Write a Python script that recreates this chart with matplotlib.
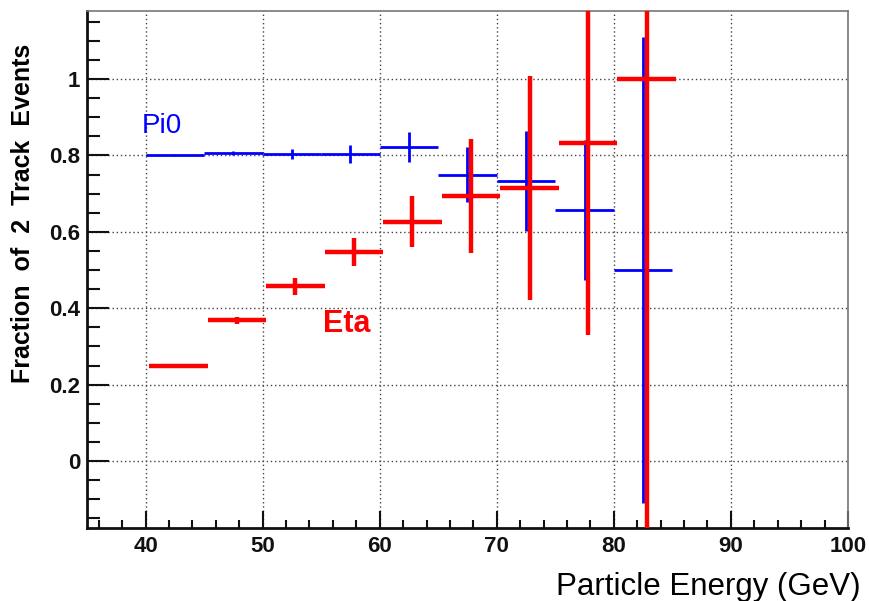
import matplotlib
matplotlib.use("Agg")
import matplotlib.pyplot as plt
from matplotlib.ticker import MultipleLocator

plt.rcParams['font.family'] = ['Liberation Sans', 'DejaVu Sans']

# energy bins, 5 GeV wide
bin_half = 2.5
pi0_x = [42.5, 47.5, 52.5, 57.5, 62.5, 67.5, 72.5, 77.5, 82.5]
pi0_frac = [0.800, 0.806, 0.804, 0.804, 0.822, 0.749, 0.733, 0.658, 0.500]
pi0_err = [0.002, 0.005, 0.013, 0.023, 0.040, 0.072, 0.130, 0.183, 0.610]

# eta points sit slightly to the right of the pi0 ones
eta_x = [42.8, 47.8, 52.8, 57.8, 62.8, 67.8, 72.8, 77.8, 82.8]
eta_frac = [0.250, 0.368, 0.457, 0.547, 0.627, 0.693, 0.714, 0.833, 1.000]
eta_err = [0.002, 0.010, 0.021, 0.037, 0.067, 0.149, 0.293, 0.503, 1.200]

x_ticks = [40, 50, 60, 70, 80, 90, 100]
y_ticks = [0, 0.2, 0.4, 0.6, 0.8, 1.0]
y_tick_labels = ['0', '0.2', '0.4', '0.6', '0.8', '1']

fig = plt.figure(figsize=(8.69, 6.01), dpi=100)
ax = fig.add_axes([0.1001, 0.1215, 0.8757, 0.8602])

ax.errorbar(pi0_x, pi0_frac, xerr=bin_half, yerr=pi0_err, fmt='none',
            ecolor='#0000ff', elinewidth=2.0, capsize=0, zorder=3)
ax.errorbar(eta_x, eta_frac, xerr=bin_half, yerr=eta_err, fmt='none',
            ecolor='#ff0000', elinewidth=3.2, capsize=0, zorder=4)

ax.set_xlim(35, 100)
ax.set_ylim(-0.175, 1.178)
ax.set_xticks(x_ticks)
ax.set_yticks(y_ticks)
ax.set_yticklabels(y_tick_labels)
ax.xaxis.set_minor_locator(MultipleLocator(2))
ax.yaxis.set_minor_locator(MultipleLocator(0.05))

ax.tick_params(axis='both', which='both', direction='in', colors='#111111',
               width=1.5, top=False, right=False)
ax.tick_params(axis='y', which='major', length=16, pad=5, labelsize=16)
ax.tick_params(axis='y', which='minor', length=9)
ax.tick_params(axis='x', which='major', length=12, pad=6, labelsize=16)
ax.tick_params(axis='x', which='minor', length=6)
for lab in ax.get_xticklabels() + ax.get_yticklabels():
    lab.set_fontweight('bold')

ax.grid(True, which='major', linestyle=(0, (1, 2)), color='#444444', linewidth=1.0)

for side in ['left', 'bottom']:
    ax.spines[side].set_linewidth(2.0)
    ax.spines[side].set_color('#111111')
for side in ['top', 'right']:
    ax.spines[side].set_linewidth(1.2)
    ax.spines[side].set_color('#777777')

ax.text(39.7, 0.859, 'Pi0', color='#0000ff', fontsize=20)
ax.text(55.2, 0.339, 'Eta', color='#ff0000', fontsize=22, fontweight='bold')

fig.text(0.026, 0.928, 'Fraction  of  2  Track  Events', rotation=90,
         ha='center', va='top', fontsize=18, fontweight='bold')
fig.text(0.99, 0.01, 'Particle Energy (GeV)', ha='right', va='baseline',
         fontsize=22.5)

fig.savefig('out.png', dpi=100)
